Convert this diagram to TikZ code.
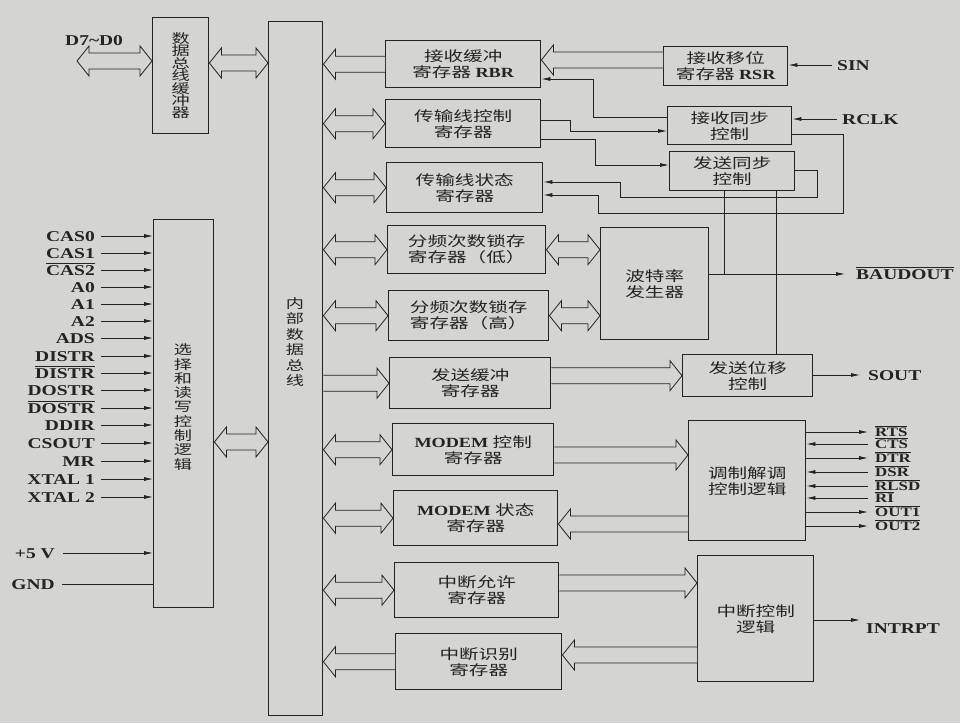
\documentclass[tikz,border=0pt]{standalone}
\usepackage{fontspec}
\setmainfont{Liberation Serif}
\newfontfamily\pinfont[FakeStretch=1.3]{Liberation Serif}
\newfontfamily\cjk[FakeStretch=1.4]{Noto Sans CJK SC}
\usetikzlibrary{calc,arrows.meta}
\definecolor{paper}{RGB}{212,212,208}
\definecolor{ink}{RGB}{35,35,35}
\setlength{\lineskiplimit}{-10pt}
\newcommand\lat[1]{{\pinfont\bfseries\fontsize{14}{16}\selectfont #1}}
\newcommand\ov[1]{\setbox0\hbox{#1}\rlap{\rule[\dimexpr\ht0+1.2pt\relax]{\wd0}{0.6pt}}\box0}
\newcommand\fSW{8pt}
\newcommand\fHW{15pt}
\newcommand\fHL{12pt}
% fat arrow, heads at both ends
\newcommand\fatB[2]{\draw[fat] let \p1=#1, \p2=#2 in
 (\x1,\y1) -- ({\x1+\fHL},{\y1+\fHW}) -- ({\x1+\fHL},{\y1+\fSW}) -- ({\x2-\fHL},{\y1+\fSW}) -- ({\x2-\fHL},{\y1+\fHW}) -- (\x2,\y1) -- ({\x2-\fHL},{\y1-\fHW}) -- ({\x2-\fHL},{\y1-\fSW}) -- ({\x1+\fHL},{\y1-\fSW}) -- ({\x1+\fHL},{\y1-\fHW}) -- cycle;}
% fat arrow, head at right end
\newcommand\fatR[2]{\draw[fat] let \p1=#1, \p2=#2 in
 (\x1,{\y1+\fSW}) -- ({\x2-\fHL},{\y1+\fSW}) -- ({\x2-\fHL},{\y1+\fHW}) -- (\x2,\y1) -- ({\x2-\fHL},{\y1-\fHW}) -- ({\x2-\fHL},{\y1-\fSW}) -- (\x1,{\y1-\fSW});}
% fat arrow, head at left end
\newcommand\fatL[2]{\draw[fat] let \p1=#1, \p2=#2 in
 (\x2,{\y1+\fSW}) -- ({\x1+\fHL},{\y1+\fSW}) -- ({\x1+\fHL},{\y1+\fHW}) -- (\x1,\y1) -- ({\x1+\fHL},{\y1-\fHW}) -- ({\x1+\fHL},{\y1-\fSW}) -- (\x2,{\y1-\fSW});}
\tikzset{
 blk/.style={draw=ink, line width=1.4pt, fill=paper, inner sep=0pt, anchor=north west,
   align=center, font=\cjk\fontsize{14}{16}\selectfont, text=ink},
 vtext/.style={align=center, text=ink, inner sep=0pt},
 fat/.style={draw=ink, line width=0.8pt, fill=paper},
 sig/.style={draw=ink, line width=0.8pt},
 sigarr/.style={sig, -{Latex[length=9pt,width=4pt]}},
 pin/.style={font=\pinfont\bfseries\fontsize{15}{15}\selectfont, text=ink, inner sep=0pt,
   text height=10pt, text depth=0pt},
 mpin/.style={font=\pinfont\bfseries\fontsize{13}{13}\selectfont, text=ink, inner sep=0pt,
   text height=8.6pt, text depth=0pt, anchor=west},
}
\begin{document}
\begin{tikzpicture}[x=1pt,y=-1pt]
\useasboundingbox (0,0) rectangle (960,723);
\fill[paper] (0,0) rectangle (960,723);

% ---- left blocks
\node[blk, minimum width=56pt, minimum height=116pt] (dbb) at (152,17) {};
\node[vtext, font=\cjk\fontsize{13}{12.4}\selectfont] (dbbt) at (dbb.center) {数\\据\\总\\线\\缓\\冲\\器};
\node[blk, minimum width=60pt, minimum height=388pt] (sel) at (153,219) {};
\node[vtext, font=\cjk\fontsize{13}{14.3}\selectfont] (selt) at (183,407) {选\\择\\和\\读\\写\\控\\制\\逻\\辑};
\node[blk, minimum width=54pt, minimum height=694pt] (bus) at (268,21) {};
\node[vtext, font=\cjk\fontsize{13}{15.5}\selectfont] (bust) at (295,342) {内\\部\\数\\据\\总\\线};

% ---- register column
\node[blk, minimum width=155pt, minimum height=47pt] (rbr) at (385,40) {接收缓冲\\寄存器 \lat{RBR}};
\node[blk, minimum width=155pt, minimum height=48pt] (lcr) at (385,99) {传输线控制\\寄存器};
\node[blk, minimum width=156pt, minimum height=50pt] (lsr) at (386,162) {传输线状态\\寄存器};
\node[blk, minimum width=158pt, minimum height=48pt] (dll) at (387,225) {分频次数锁存\\寄存器（低）};
\node[blk, minimum width=160pt, minimum height=50pt] (dlm) at (388,290) {分频次数锁存\\寄存器（高）};
\node[blk, minimum width=161pt, minimum height=51pt] (tbr) at (389,357) {发送缓冲\\寄存器};
\node[blk, minimum width=161pt, minimum height=52pt] (mcr) at (392,423) {\lat{MODEM} 控制\\寄存器};
\node[blk, minimum width=164pt, minimum height=55pt] (msr) at (393,490) {\lat{MODEM} 状态\\寄存器};
\node[blk, minimum width=164pt, minimum height=55pt] (ier) at (394,562) {中断允许\\寄存器};
\node[blk, minimum width=166pt, minimum height=56pt] (iir) at (395,633) {中断识别\\寄存器};

% ---- right blocks
\node[blk, minimum width=124pt, minimum height=39pt] (rsr) at (663,46) {接收移位\\寄存器 \lat{RSR}};
\node[blk, minimum width=124pt, minimum height=38pt] (rsync) at (667,106) {接收同步\\控制};
\node[blk, minimum width=125pt, minimum height=39pt] (tsync) at (669,151) {发送同步\\控制};
\node[blk, minimum width=108pt, minimum height=112pt] (brg) at (600,227) {波特率\\发生器};
\node[blk, minimum width=130pt, minimum height=42pt] (tsr) at (682,354) {发送位移\\控制};
\node[blk, minimum width=117pt, minimum height=120pt] (mcl) at (688,420) {调制解调\\控制逻辑};
\node[blk, minimum width=116pt, minimum height=126pt] (icl) at (697,555) {中断控制\\逻辑};

% ---- fat arrows
\coordinate (dext) at (77,61);
\node[pin, anchor=south west] (dlab) at (65,46) {D7\textasciitilde D0};
\fatB{(dext)}{(dbb.west|-dext)}
\fatB{(dbb.east|-0,63)}{(bus.west|-0,63)}
\fatB{(sel.east|-0,442)}{(bus.west|-0,442)}
\fatL{(bus.east|-rbr.west)}{(rbr.west)}
\fatL{(rbr.east|-0,60)}{(rsr.west|-0,60)}
\fatB{(bus.east|-lcr.west)}{(lcr.west)}
\fatB{(bus.east|-lsr.west)}{(lsr.west)}
\fatB{(bus.east|-dll.west)}{(dll.west)}
\fatB{(dll.east)}{(brg.west|-dll.east)}
\fatB{(bus.east|-dlm.west)}{(dlm.west)}
\fatB{(dlm.east)}{(brg.west|-dlm.east)}
\fatR{(bus.east|-tbr.west)}{(tbr.west)}
\fatR{(tbr.east|-tsr.west)}{(tsr.west)}
\fatB{(bus.east|-mcr.west)}{(mcr.west)}
\fatR{(mcr.east|-0,455)}{(mcl.west|-0,455)}
\fatB{(bus.east|-msr.west)}{(msr.west)}
\fatL{(msr.east|-0,524)}{(mcl.west|-0,524)}
\fatB{(bus.east|-ier.west)}{(ier.west)}
\fatR{(ier.east|-0,583)}{(icl.west|-0,583)}
\fatL{(bus.east|-iir.west)}{(iir.west)}
\fatL{(iir.east|-0,655)}{(icl.west|-0,655)}

% ---- thin control lines
\draw[sigarr] (rsync.west|-0,117) -- (593,117) -- (593,79) -- (rbr.east|-0,79);
\draw[sigarr] (lcr.east|-0,120) -- (570,120) -- (570,131) -- (rsync.west|-0,131);
\draw[sigarr] (lcr.east|-0,139) -- (595,139) -- (595,165) -- (tsync.west|-0,165);
\draw[sigarr] (tsync.east|-0,170) -- (817,170) -- (817,197) -- (620,197) -- (620,182) -- (lsr.east|-0,182);
\draw[sigarr] (rsync.east|-0,134) -- (843,134) -- (843,213) -- (598,213) -- (598,195) -- (lsr.east|-0,195);

% ---- right pins
\node[pin, anchor=west] (sin) at (837,65) {SIN};
\draw[sigarr] ([xshift=-5pt]sin.west) -- (rsr.east|-sin.west);
\node[pin, anchor=west] (rclk) at (842,119) {RCLK};
\draw[sigarr] ([xshift=-5pt]rclk.west) -- (rsync.east|-rclk.west);
\node[pin, anchor=west] (baud) at (856,274) {\ov{BAUDOUT}};
\draw[sigarr] (brg.east|-baud.west) -- ([xshift=-11pt]baud.west);
\draw[sig] (tsync.south-|724,0) -- (724,0|-baud.west);
\draw[sig] (tsync.south-|776,0) -- (tsr.north-|776,0);
\node[pin, anchor=west] (sout) at (868,375) {SOUT};
\draw[sigarr] (tsr.east|-sout.west) -- ([xshift=-8pt]sout.west);
\node[pin, anchor=west] (intr) at (866,628) {INTRPT};
\draw[sigarr] (icl.east|-0,620) -- (860,620);

\foreach \y/\t [count=\i] in {432/RTS, 458/DTR, 512/OUT1, 526/OUT2} {
  \node[mpin] (mo\i) at (875,\y) {\ov{\t}};
  \draw[sigarr] (mcl.east|-mo\i.west) -- ([xshift=-7pt]mo\i.west);
}
\foreach \y/\t [count=\i] in {444/CTS, 472/DSR, 486/RLSD, 498/RI} {
  \node[mpin] (mi\i) at (875,\y) {\ov{\t}};
  \draw[sigarr] ([xshift=-7pt]mi\i.west) -- (mcl.east|-mi\i.west);
}

% ---- left pins
\foreach \y/\t [count=\i] in {236/CAS0, 253/CAS1, 270/{\ov{CAS2}}, 287/A0, 304/A1, 321/A2, 338/ADS,
   356/DISTR, 373/{\ov{DISTR}}, 390/DOSTR, 408/{\ov{DOSTR}}, 425/DDIR, 443/CSOUT, 461/MR,
   479/XTAL 1, 497/XTAL 2} {
  \node[pin, anchor=east] (lp\i) at (95,\y) {\t};
  \draw[sigarr] ([xshift=6pt]lp\i.east) -- (sel.west|-lp\i.east);
}
\node[pin, anchor=east] (vcc) at (55,553) {+5 V};
\draw[sigarr] ([xshift=8pt]vcc.east) -- (sel.west|-vcc.east);
\node[pin, anchor=east] (gnd) at (55,584) {GND};
\draw[sig] ([xshift=7pt]gnd.east) -- (sel.west|-gnd.east);
\end{tikzpicture}
\end{document}
